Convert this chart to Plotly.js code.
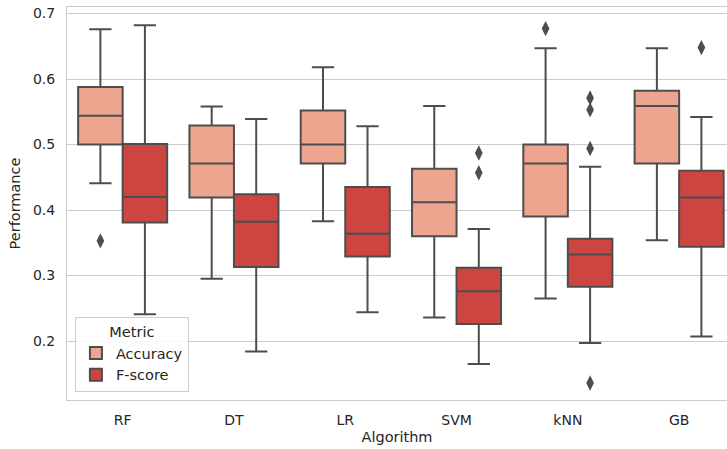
<!DOCTYPE html>
<html><head><meta charset="utf-8">
<script src="https://cdn.plot.ly/plotly-3.0.1.min.js"></script>
<style>html,body{margin:0;padding:0;overflow:hidden;background:#fff}</style>
</head><body><div id="chart" style="width:727px;height:449px"></div>
<script>
const algorithms = ['RF','DT','LR','SVM','kNN','GB'];
// Accuracy stats
const accLower  = [0.441, 0.295, 0.383, 0.236, 0.265, 0.354];
const accQ1     = [0.500, 0.419, 0.471, 0.360, 0.390, 0.471];
const accMedian = [0.544, 0.471, 0.500, 0.412, 0.471, 0.559];
const accQ3     = [0.588, 0.529, 0.552, 0.463, 0.500, 0.582];
const accUpper  = [0.676, 0.558, 0.618, 0.559, 0.647, 0.647];
// F-score stats
const fLower  = [0.241, 0.184, 0.244, 0.165, 0.197, 0.207];
const fQ1     = [0.381, 0.313, 0.329, 0.226, 0.283, 0.344];
const fMedian = [0.420, 0.382, 0.364, 0.276, 0.332, 0.419];
const fQ3     = [0.501, 0.424, 0.435, 0.312, 0.356, 0.460];
const fUpper  = [0.682, 0.539, 0.528, 0.371, 0.466, 0.542];
// Outliers
const accOutlierAlg = ['RF','kNN'];
const accOutlierVal = [0.353, 0.677];
const fOutlierAlg = ['SVM','SVM','kNN','kNN','kNN','kNN','GB'];
const fOutlierVal = [0.487, 0.457, 0.571, 0.553, 0.494, 0.136, 0.648];

const accColor = '#eca58e', fColor = '#cc4541', lineColor = '#4d4d4d';
const idx = a => algorithms.indexOf(a);
const off = 0.2;

const traces = [
  {type:'box', name:'Accuracy', x: algorithms.map((a,i)=>i-off),
   lowerfence: accLower, q1: accQ1, median: accMedian, q3: accQ3, upperfence: accUpper,
   width: 0.4, whiskerwidth: 0.5, fillcolor: accColor, line:{color: lineColor, width: 2},
   boxpoints: false, hoverinfo:'skip'},
  {type:'box', name:'F-score', x: algorithms.map((a,i)=>i+off),
   lowerfence: fLower, q1: fQ1, median: fMedian, q3: fQ3, upperfence: fUpper,
   width: 0.4, whiskerwidth: 0.5, fillcolor: fColor, line:{color: lineColor, width: 2},
   boxpoints: false, hoverinfo:'skip'},
  {type:'scatter', mode:'markers', x: accOutlierAlg.map(a=>idx(a)-off), y: accOutlierVal,
   marker:{symbol:'diamond-tall', size:11, color:lineColor}, showlegend:false, hoverinfo:'skip'},
  {type:'scatter', mode:'markers', x: fOutlierAlg.map(a=>idx(a)+off), y: fOutlierVal,
   marker:{symbol:'diamond-tall', size:11, color:lineColor}, showlegend:false, hoverinfo:'skip'}
];

const layout = {
  width: 727, height: 449,
  margin: {l:67, r:0, t:7, b:49},
  paper_bgcolor:'#fff', plot_bgcolor:'#fff',
  font: {family:'DejaVu Sans', size:14, color:'#262626'},
  showlegend: true,
  xaxis: {range:[-0.5, 5.43], tickvals: algorithms.map((a,i)=>i), ticktext: algorithms,
          showgrid:false, zeroline:false, showline:true, mirror:true, linecolor:'#cccccc', linewidth:1,
          ticks:'', ticklabelstandoff: 7, tickfont:{size:14},
          title:{text:'Algorithm', standoff: 5, font:{size:14.5}}},
  yaxis: {range:[0.110, 0.710], tickvals:[0.2,0.3,0.4,0.5,0.6,0.7], ticktext:['0.2','0.3','0.4','0.5','0.6','0.7'],
          showgrid:true, gridcolor:'#cccccc', gridwidth:1, zeroline:false, showline:true, linecolor:'#cccccc', linewidth:1,
          ticks:'', ticklabelstandoff: 8, tickfont:{size:14},
          title:{text:'Performance', standoff: 8, font:{size:14.5}}},
  legend: {x:0.012, y:0.02, xanchor:'left', yanchor:'bottom', bgcolor:'rgba(255,255,255,0.85)',
           bordercolor:'#cccccc', borderwidth:1, font:{size:14.5}, entrywidth: 82, entrywidthmode:'pixels',
           title:{text:'Metric', side:'top center', font:{size:14.5}}},
};
Plotly.newPlot('chart', traces, layout, {staticPlot:true, displayModeBar:false});
</script></body></html>
